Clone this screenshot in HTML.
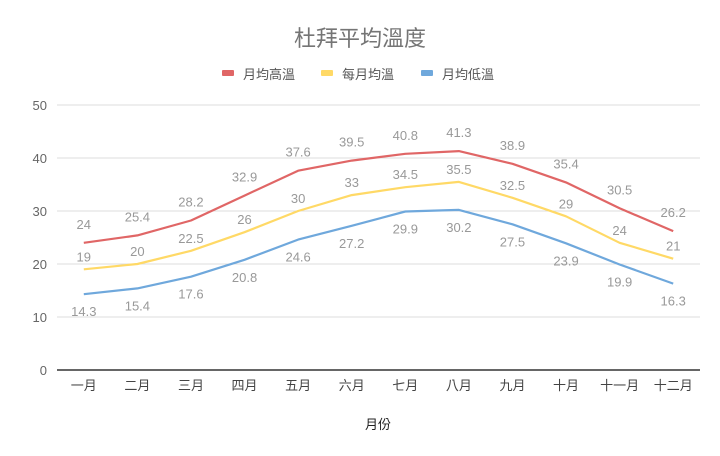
<!DOCTYPE html>
<html><head><meta charset="utf-8">
<style>
body{margin:0;background:#fff;}
svg{display:block;font-family:"Liberation Sans","Noto Sans CJK TC",sans-serif;}
</style></head>
<body>
<svg id="chart" width="720" height="456">
<text x="360" y="46" text-anchor="middle" font-size="22" fill="#757575">杜拜平均溫度</text>
<g id="legend"></g>
<g id="grid"></g>
<g id="series"></g>
<g id="labels"></g>
<text x="378" y="429" text-anchor="middle" font-size="13" fill="#222">月份</text>
</svg>
<script>
const categories=["一月","二月","三月","四月","五月","六月","七月","八月","九月","十月","十一月","十二月"];
const highTemps=[24,25.4,28.2,32.9,37.6,39.5,40.8,41.3,38.9,35.4,30.5,26.2];
const avgTemps=[19,20,22.5,26,30,33,34.5,35.5,32.5,29,24,21];
const lowTemps=[14.3,15.4,17.6,20.8,24.6,27.2,29.9,30.2,27.5,23.9,19.9,16.3];
const yTicks=[0,10,20,30,40,50];
const seriesNames=["月均高溫","每月均溫","月均低溫"];
const NS="http://www.w3.org/2000/svg";
const L=57,R=700,T=105,B=370,ymax=50;
const bw=(R-L)/categories.length;
const xs=i=>L+bw*(i+0.5);
const ys=v=>B-(v/ymax)*(B-T);
function mk(tag,attrs,parent,text){const e=document.createElementNS(NS,tag);for(const k in attrs)e.setAttribute(k,attrs[k]);if(text!==undefined)e.textContent=text;parent.appendChild(e);return e;}
const grid=document.getElementById('grid');
yTicks.forEach(t=>{
 const ln=mk('line',{x1:L,x2:R,y1:ys(t),y2:ys(t),stroke:t===0?'#333':'#ddd','stroke-width':t===0?1.5:1},grid);
 
 
 const tx=mk('text',{x:L-10,y:ys(t)+5,'text-anchor':'end','font-size':13,fill:'#666'},grid,String(t));
 
 
});
categories.forEach((c,i)=>{
 const tx=mk('text',{x:xs(i),y:B+20,'text-anchor':'middle','font-size':13,fill:'#444'},grid,c);
 
 
});
const colors=["#e06666","#ffd966","#6fa8dc"];
const data=[highTemps,avgTemps,lowTemps];
const offsets=[-14,-8,22];
const ser=document.getElementById('series'),lab=document.getElementById('labels');
data.forEach((arr,s)=>{
 const d=arr.map((v,i)=>(i?'L':'M')+xs(i).toFixed(1)+' '+ys(v).toFixed(1)).join(' ');
 const p=mk('path',{d:d,fill:'none',stroke:colors[s],'stroke-width':2.2,'stroke-linejoin':'round'},ser);
 
 
 arr.forEach((v,i)=>{
  const tx=mk('text',{x:xs(i),y:ys(v)+offsets[s],'text-anchor':'middle','font-size':13,fill:'#999'},lab,String(v));
  
  
 });
});
const leg=document.getElementById('legend');
const lx=[222,321,421];
seriesNames.forEach((n,s)=>{
 const r=mk('rect',{x:lx[s],y:70,width:12,height:6,rx:1,fill:colors[s]},leg);
 
 
 const tx=mk('text',{x:lx[s]+21,y:79,'font-size':13,fill:'#555'},leg,n);
 
 
});
</script>
</body></html>
